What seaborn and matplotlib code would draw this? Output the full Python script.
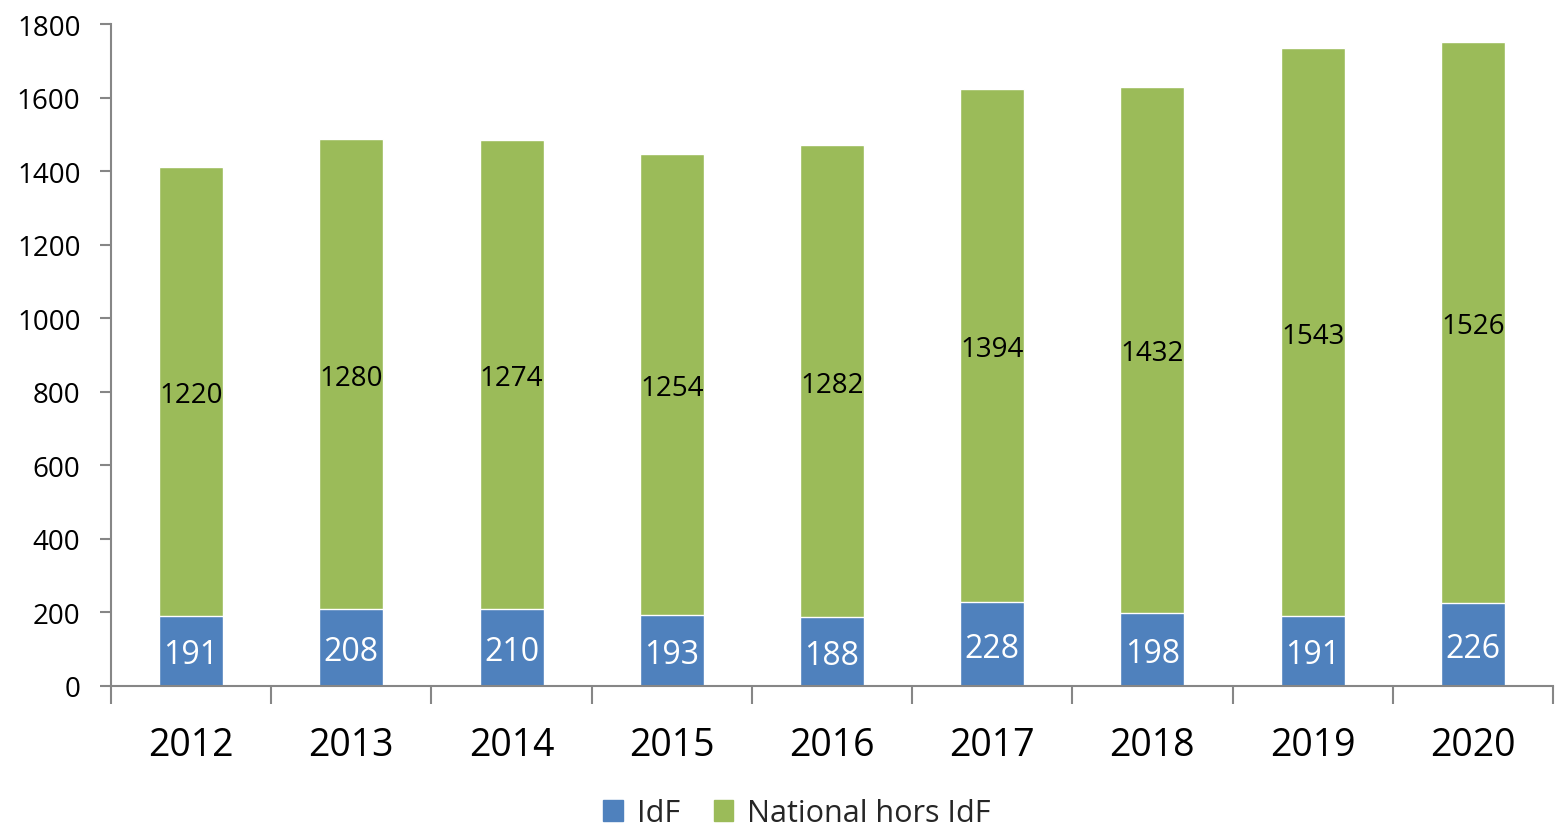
import numpy as np
import pandas as pd
import matplotlib
matplotlib.use("Agg")
import matplotlib.pyplot as plt
import seaborn as sns
from matplotlib.patches import Patch

years = ["2012", "2013", "2014", "2015", "2016", "2017", "2018", "2019", "2020"]
idf = [191, 208, 210, 193, 188, 228, 198, 191, 226]
national = [1220, 1280, 1274, 1254, 1282, 1394, 1432, 1543, 1526]

BLUE = "#4F81BD"
GREEN = "#9BBB59"
GREY = "#868686"

sns.set_theme(style="white")
plt.rcParams["font.family"] = ["Open Sans", "DejaVu Sans"]

df = pd.DataFrame({"annee": years, "IdF": idf, "National hors IdF": national})
df["total"] = df["IdF"] + df["National hors IdF"]

fig = plt.figure(figsize=(15.55, 8.29), dpi=100)
ax = fig.add_axes([0.0714, 0.1713, 0.9273, 0.7985])

# barres empilées : total en vert, IdF en bleu par-dessus
sns.barplot(data=df, x="annee", y="total", color=GREEN, width=0.4,
            saturation=1, ax=ax)
sns.barplot(data=df, x="annee", y="IdF", color=BLUE, width=0.4,
            saturation=1, ax=ax)

for i, row in df.iterrows():
    ax.text(i, row["IdF"] / 2, str(row["IdF"]), ha="center",
            va="center_baseline", color="white", fontsize=23)
    ax.text(i, row["IdF"] + row["National hors IdF"] / 2,
            str(row["National hors IdF"]), ha="center",
            va="center_baseline", color="black", fontsize=20)

ax.set_xlim(-0.5, len(years) - 0.5)
ax.set_ylim(0, 1800)
ax.set_yticks(np.arange(0, 1801, 200))
ax.set_xlabel("")
ax.set_ylabel("")

# graduations x aux limites de catégories
ax.set_xticks(np.arange(-0.5, len(years), 1.0), minor=True)
ax.tick_params(axis="x", which="minor", length=13, width=1.5, color=GREY,
               direction="out", bottom=True)
ax.tick_params(axis="x", which="major", length=0, pad=29, labelsize=27,
               labelcolor="black")
ax.tick_params(axis="y", length=8, width=1.5, color=GREY, direction="out",
               left=True, pad=14, labelsize=20, labelcolor="black")

for s in ["top", "right"]:
    ax.spines[s].set_visible(False)
for s in ["left", "bottom"]:
    ax.spines[s].set_color(GREY)
    ax.spines[s].set_linewidth(1.5)

handles = [Patch(color=BLUE, label="IdF"),
           Patch(color=GREEN, label="National hors IdF")]
fig.legend(handles=handles, loc="center", bbox_to_anchor=(0.5125, 0.018),
           ncol=2, frameon=False, fontsize=22, handlelength=0.65,
           handleheight=0.65, handletextpad=0.45, columnspacing=1.1,
           borderaxespad=0)

fig.savefig("out.png", dpi=100)
